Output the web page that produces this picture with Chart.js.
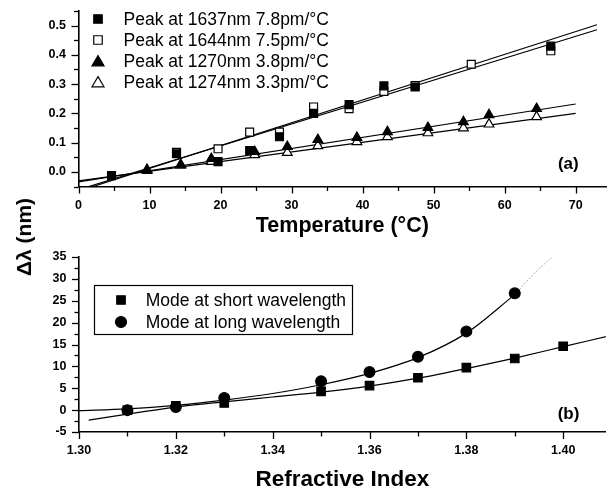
<!DOCTYPE html>
<html>
<head>
<meta charset="utf-8">
<script src="https://cdn.jsdelivr.net/npm/chart.js@4.4.0/dist/chart.umd.min.js"></script>
<style>
html, body { margin: 0; padding: 0; background: #fff; }
#wrap { position: relative; width: 613px; height: 491px; overflow: hidden; }
#chartTop { position: absolute; left: 0; top: 0; }
#chartBot { position: absolute; left: 0; top: 244px; }
#ytitle {
    position: absolute; left: 24px; top: 237px;
    transform: translate(-50%, -50%) rotate(-90deg);
    font: bold 21px "Liberation Sans", Arial, sans-serif;
    white-space: nowrap; color: #000;
}
</style>
</head>
<body>
<div id="wrap">
    <canvas id="chartTop" width="613" height="244"></canvas>
    <canvas id="chartBot" width="613" height="247"></canvas>
    <div id="ytitle">Δλ (nm)</div>
</div>
<script>
// ---- (a) temperature data ----
const temp1637 = [4.65, 13.8, 19.65, 24.1, 28.3, 33.1, 38.1, 43.0, 47.4, 66.5];
const shift1637 = [-0.013, 0.062, 0.035, 0.073, 0.120, 0.200, 0.230, 0.294, 0.290, 0.430];
const temp1644 = [13.8, 19.65, 24.1, 28.3, 33.1, 38.1, 43.0, 47.4, 55.3, 66.5];
const shift1644 = [0.067, 0.079, 0.136, 0.136, 0.222, 0.216, 0.275, 0.295, 0.368, 0.414];
const tempTri = [9.65, 14.4, 18.7, 24.8, 29.4, 33.7, 39.2, 43.5, 49.2, 54.2, 57.8, 64.5];
const shift1270 = [0.008, 0.025, 0.045, 0.069, 0.086, 0.110, 0.117, 0.137, 0.151, 0.171, 0.195, 0.216];
const shift1274 = [0.004, 0.022, 0.035, 0.058, 0.066, 0.089, 0.103, 0.120, 0.133, 0.150, 0.163, 0.188];

// linear fits (end points)
const fitTempSq = [0, 73];
const fit1637 = [-0.066, 0.503];
const fit1644 = [-0.061, 0.486];
const fitTempTri = [0, 70];
const fit1270 = [-0.034, 0.232];
const fit1274 = [-0.031, 0.200];

const legendA = ['Peak at 1637nm 7.8pm/°C', 'Peak at 1644nm 7.5pm/°C',
                 'Peak at 1270nm 3.8pm/°C', 'Peak at 1274nm 3.3pm/°C'];

// ---- (b) refractive index data ----
const riShort = [1.31, 1.32, 1.33, 1.35, 1.36, 1.37, 1.38, 1.39, 1.40];
const shiftShort = [0.0, 1.0, 1.65, 4.3, 5.6, 7.4, 9.7, 11.8, 14.6];
const riLong = [1.31, 1.32, 1.33, 1.35, 1.36, 1.37, 1.38, 1.39];
const shiftLong = [0.0, 0.7, 2.8, 6.6, 8.7, 12.2, 18.0, 26.7];

const fitRiShort = [1.302, 1.31, 1.32, 1.33, 1.34, 1.35, 1.36, 1.37, 1.38, 1.39, 1.40, 1.41];
const fitShort = [-2.3, -0.9, 0.7, 1.9, 3.0, 4.1, 5.5, 7.3, 9.5, 11.9, 14.5, 17.1];
const fitRiLong = [1.30, 1.31, 1.32, 1.33, 1.34, 1.35, 1.36, 1.37, 1.38, 1.39];
const fitLong = [-0.1, 0.3, 1.1, 2.3, 3.8, 5.8, 8.4, 12.0, 17.6, 26.4];
const extRiLong = [1.39, 1.3939, 1.398];
const extLong = [26.4, 31.1, 35.3];

const legendB = ['Mode at short wavelength', 'Mode at long wavelength'];

const FONT = '"Liberation Sans", Arial, sans-serif';

function pts(xs, ys) {
    return xs.map(function (x, i) { return {x: x, y: ys[i]}; });
}

function markers(xs, ys, style, filled, r) {
    return {
        data: pts(xs, ys), showLine: false, pointStyle: style, pointRadius: r,
        pointBackgroundColor: filled ? '#000' : '#fff', pointBorderColor: '#000',
        pointBorderWidth: 1.2
    };
}

function fitLine(xs, ys, opts) {
    return Object.assign({
        data: pts(xs, ys), showLine: true, pointRadius: 0,
        borderColor: '#000', borderWidth: 1.2, fill: false
    }, opts || {});
}

// tick marks (major / minor) drawn on the library scales
const tickMarks = {
    id: 'tickMarks',
    afterDraw(chart, args, o) {
        const ctx = chart.ctx, x = chart.scales.x, y = chart.scales.y;
        const a = chart.chartArea;
        ctx.save();
        ctx.strokeStyle = '#000';
        ctx.lineWidth = 1.3;
        x.ticks.forEach(function (t) {
            const px = Math.round(x.getPixelForValue(t.value)) + 0.5;
            const len = o.xMajor(t.value) ? 7 : 4.5;
            ctx.beginPath(); ctx.moveTo(px, a.bottom); ctx.lineTo(px, a.bottom + len); ctx.stroke();
        });
        y.ticks.forEach(function (t) {
            const py = Math.round(y.getPixelForValue(t.value)) + 0.5;
            const len = o.yMajor(t.value) ? 7 : 4.5;
            ctx.beginPath(); ctx.moveTo(a.left, py); ctx.lineTo(a.left - len, py); ctx.stroke();
        });
        ctx.restore();
    }
};

function drawMarker(ctx, style, filled, cx, cy, s) {
    ctx.beginPath();
    if (style === 'rect') {
        ctx.rect(cx - s / 2, cy - s / 2, s, s);
    } else if (style === 'triangle') {
        ctx.moveTo(cx, cy - s * 0.45);
        ctx.lineTo(cx + s * 0.5, cy + s * 0.4);
        ctx.lineTo(cx - s * 0.5, cy + s * 0.4);
        ctx.closePath();
    } else {
        ctx.arc(cx, cy, s / 2, 0, Math.PI * 2);
    }
    ctx.fillStyle = filled ? '#000' : '#fff';
    ctx.fill();
    ctx.lineWidth = 1.2;
    ctx.strokeStyle = '#000';
    ctx.stroke();
}

const annot = {
    id: 'annot',
    afterDraw(chart, args, o) {
        const ctx = chart.ctx;
        ctx.save();
        if (o.box) {
            ctx.fillStyle = '#fff';
            ctx.fillRect(o.box[0], o.box[1], o.box[2], o.box[3]);
            ctx.lineWidth = 1.2;
            ctx.strokeStyle = '#000';
            ctx.strokeRect(o.box[0] + 0.5, o.box[1] + 0.5, o.box[2], o.box[3]);
        }
        o.items.forEach(function (it, i) {
            const cy = o.y0 + i * o.dy;
            drawMarker(ctx, it.style, it.filled, o.mx, cy, it.size);
            ctx.fillStyle = '#000';
            ctx.font = '17.5px ' + FONT;
            ctx.textAlign = 'left';
            ctx.textBaseline = 'middle';
            ctx.fillText(it.text, o.tx, cy + 1);
        });
        ctx.font = 'bold 17px ' + FONT;
        ctx.textAlign = 'center';
        ctx.textBaseline = 'middle';
        ctx.fillText(o.tag, chart.scales.x.getPixelForValue(o.tagAt[0]), chart.scales.y.getPixelForValue(o.tagAt[1]));
        ctx.restore();
    }
};

function axisX(min, max, step, fmt, isMajor, title, titleSize, titlePad, labelPad, h) {
    return {
        type: 'linear', min: min, max: max,
        grid: {display: false, drawTicks: false},
        border: {display: true, color: '#000', width: 1.6},
        ticks: {
            stepSize: step, includeBounds: false, autoSkip: false, maxRotation: 0,
            padding: labelPad, color: '#000',
            font: {family: FONT, size: 12.5, weight: 'bold'},
            callback: function (v) { return isMajor(v) ? fmt(v) : ''; }
        },
        title: {
            display: true, text: title, color: '#000',
            font: {family: FONT, size: titleSize, weight: 'bold', lineHeight: 1},
            padding: {top: 0, bottom: titlePad}
        },
        afterFit: function (s) { s.height = h; s.paddingLeft = 0; s.paddingRight = 0; }
    };
}

function axisY(min, max, step, fmt, isMajor, w) {
    return {
        type: 'linear', min: min, max: max,
        grid: {display: false, drawTicks: false},
        border: {display: true, color: '#000', width: 1.6},
        ticks: {
            stepSize: step, autoSkip: false, padding: 12.5, color: '#000',
            font: {family: FONT, size: 12.5, weight: 'bold'},
            callback: function (v) { return isMajor(v) ? fmt(v) : ''; }
        },
        afterFit: function (s) { s.width = w; s.paddingTop = 0; s.paddingBottom = 0; }
    };
}

// ---- chart (a) ----
const majTx = function (v) { return Math.round(v) % 10 === 0; };
const majTy = function (v) { return Math.round(v * 100) % 10 === 0; };

new Chart(document.getElementById('chartTop').getContext('2d'), {
    type: 'scatter',
    data: {
        datasets: [
            markers(temp1637, shift1637, 'rect', true, 5.6),
            markers(temp1644, shift1644, 'rect', false, 5.6),
            markers(tempTri, shift1270, 'triangle', true, 5.6),
            markers(tempTri, shift1274, 'triangle', false, 5.6),
            fitLine(fitTempSq, fit1637),
            fitLine(fitTempSq, fit1644),
            fitLine(fitTempTri, fit1270),
            fitLine(fitTempTri, fit1274)
        ]
    },
    options: {
        responsive: false, animation: false,
        layout: {padding: {top: 11, left: 0, right: 0, bottom: 0}},
        plugins: {
            legend: {display: false}, tooltip: {enabled: false},
            tickMarks: {xMajor: majTx, yMajor: majTy},
            annot: {
                mx: 98, tx: 123.5, y0: 19, dy: 21, tag: '(a)', tagAt: [68.96, 0.025],
                items: [
                    {style: 'rect', filled: true, size: 8.5, text: legendA[0]},
                    {style: 'rect', filled: false, size: 8.5, text: legendA[1]},
                    {style: 'triangle', filled: true, size: 12, text: legendA[2]},
                    {style: 'triangle', filled: false, size: 12, text: legendA[3]}
                ]
            }
        },
        scales: {
            x: axisX(0, 74.3, 5, function (v) { return String(Math.round(v)); }, majTx,
                'Temperature (°C)', 21.5, 7, 12, 57.5),
            y: axisY(-0.05, 0.55, 0.05, function (v) { return v.toFixed(1); }, majTy, 78.5)
        }
    },
    plugins: [tickMarks, annot]
});

// ---- chart (b) ----
const majBx = function (v) { return Math.round(v * 100) % 2 === 0; };
const majBy = function (v) { return Math.round(v * 10) % 50 === 0; };

new Chart(document.getElementById('chartBot').getContext('2d'), {
    type: 'scatter',
    data: {
        datasets: [
            markers(riShort, shiftShort, 'rect', true, 6),
            markers(riLong, shiftLong, 'circle', true, 5.4),
            fitLine(fitRiShort, fitShort, {cubicInterpolationMode: 'monotone'}),
            fitLine(fitRiLong, fitLong, {cubicInterpolationMode: 'monotone'}),
            fitLine(extRiLong, extLong, {cubicInterpolationMode: 'monotone', borderColor: '#9a9a9a', borderWidth: 0.8, borderDash: [2, 1.5]})
        ]
    },
    options: {
        responsive: false, animation: false,
        layout: {padding: {top: 13, left: 0, right: 0, bottom: 0}},
        plugins: {
            legend: {display: false}, tooltip: {enabled: false},
            tickMarks: {xMajor: majBx, yMajor: majBy},
            annot: {
                box: [94, 41, 258, 49],
                mx: 121, tx: 145.7, y0: 56, dy: 22, tag: '(b)', tagAt: [1.4011, -1.03],
                items: [
                    {style: 'rect', filled: true, size: 8.5, text: legendB[0]},
                    {style: 'circle', filled: true, size: 11, text: legendB[1]}
                ]
            }
        },
        scales: {
            x: axisX(1.30, 1.4088, 0.01, function (v) { return v.toFixed(2); }, majBx,
                'Refractive Index', 22.5, 0, 11, 59),
            y: axisY(-5, 35, 2.5, function (v) { return String(Math.round(v)); }, majBy, 79)
        }
    },
    plugins: [tickMarks, annot]
});
</script>
</body>
</html>
